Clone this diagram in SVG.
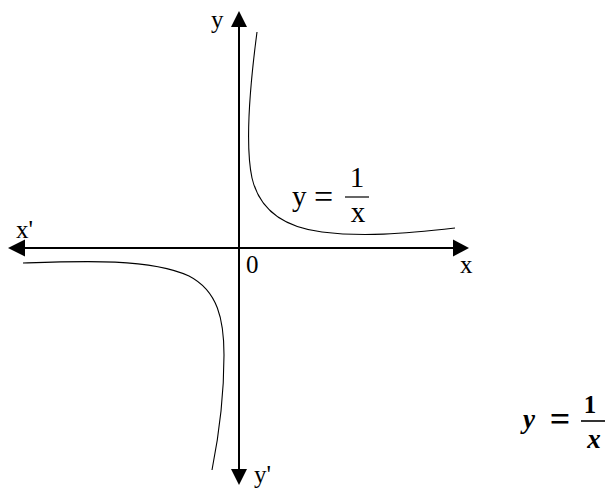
<svg xmlns="http://www.w3.org/2000/svg" width="605" height="489" viewBox="0 0 605 489">
<style>
.axis{stroke:#000;stroke-width:2;fill:none}
.curve{stroke:#000;stroke-width:1.1;fill:none}
.lbl{font-family:'Liberation Serif','DejaVu Serif',serif;fill:#000}
.mth{font-family:'Liberation Serif','DejaVu Serif',serif;font-weight:bold;fill:#000}
.it{font-style:italic}
</style>
<rect width="605" height="489" fill="#fff"/>
<g id="axes">
<line class="axis" x1="24" y1="248" x2="455" y2="248"/>
<line class="axis" x1="239" y1="26" x2="239" y2="470"/>
<polygon points="8,248 25,239.5 25,256.5" fill="#000"/>
<polygon points="469,248 453,239.5 453,256.5" fill="#000"/>
<polygon points="239,11 231,27 247,27" fill="#000"/>
<polygon points="239,485 231,469 247,469" fill="#000"/>
</g>
<g id="curves">
<path class="curve" d="M257,32 C250,85 245,145 252,178 C259,208 282,227 322,232 C362,237 402,234 455,228"/>
<path class="curve" d="M23,263 C80,261 150,258 189,276 C218,291 224,320 224,355 C224,400 218,440 212,470"/>
</g>
<g id="labels">
<text class="lbl" x="211" y="28" font-size="25">y</text>
<text class="lbl" x="16" y="238" font-size="25">x'</text>
<text class="lbl" x="246" y="273" font-size="25">0</text>
<text class="lbl" x="460" y="273" font-size="25">x</text>
<text class="lbl" x="254" y="483" font-size="25">y'</text>
</g>
<g id="formula-mid">
<text class="lbl" x="292" y="206" font-size="29">y</text>
<text class="lbl" x="323.5" y="208" font-size="34" text-anchor="middle">=</text>
<text class="lbl" x="357" y="187" font-size="29" text-anchor="middle">1</text>
<line x1="345" y1="197" x2="369" y2="197" stroke="#000" stroke-width="1.2"/>
<text class="lbl" x="358" y="222" font-size="29" text-anchor="middle">x</text>
</g>
<g id="formula-right">
<text class="mth it" x="523" y="428" font-size="27">y</text>
<text class="mth" x="560" y="431" font-size="36" text-anchor="middle">=</text>
<text class="mth" x="590" y="413" font-size="25" text-anchor="middle">1</text>
<line x1="581" y1="421" x2="605" y2="421" stroke="#000" stroke-width="1.6"/>
<text class="mth it" x="594" y="448" font-size="27" text-anchor="middle">x</text>
</g>
</svg>
